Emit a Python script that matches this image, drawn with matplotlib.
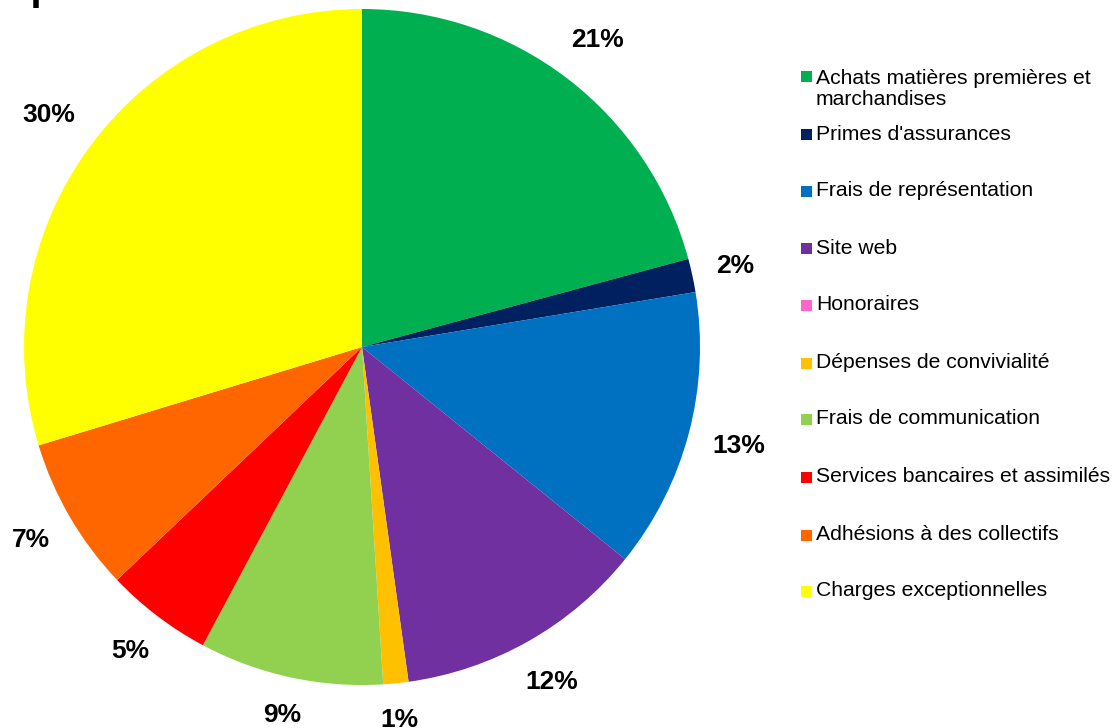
import matplotlib
matplotlib.use("Agg")
import numpy as np
import matplotlib.pyplot as plt
from matplotlib.patches import Rectangle

plt.rcParams['font.family'] = ['Liberation Sans', 'DejaVu Sans']

categories = [
    "Achats matières premières et\nmarchandises",
    "Primes d'assurances",
    "Frais de représentation",
    "Site web",
    "Honoraires",
    "Dépenses de convivialité",
    "Frais de communication",
    "Services bancaires et assimilés",
    "Adhésions à des collectifs",
    "Charges exceptionnelles",
]
values = [20.8, 1.6, 13.4, 12.0, 0.0, 1.2, 8.8, 5.1, 7.4, 29.7]
colors = ["#00B050", "#002060", "#0070C0", "#7030A0", "#FF66CC",
          "#FFC000", "#92D050", "#FF0000", "#FF6600", "#FFFF00"]
title = "Dépenses"

W, H = 1113, 728
fig = plt.figure(figsize=(W / 100, H / 100), dpi=100)

cx, cy, r = 362, 347, 338
ax = fig.add_axes([(cx - r) / W, (H - cy - r) / H, 2 * r / W, 2 * r / H])


def fmt(p):
    return "" if p < 0.05 else f"{p:.0f}%"


wedges, texts, autotexts = ax.pie(
    values, colors=colors, startangle=90, counterclock=False,
    autopct=fmt, pctdistance=1.15, radius=1.0,
    wedgeprops=dict(linewidth=0),
    textprops=dict(fontsize=19, fontweight='bold', color='black'),
)
ax.set_xlim(-1, 1)
ax.set_ylim(-1, 1)
ax.set_aspect('equal')
ax.axis('off')

# "Outside end" label placement: keep a fixed gap between label box and pie edge
renderer = fig.canvas.get_renderer()
gap = 23
for w, t in zip(wedges, autotexts):
    if not t.get_text():
        continue
    ang = np.deg2rad((w.theta1 + w.theta2) / 2)
    bb = t.get_window_extent(renderer)
    d = r + gap + bb.width / 2 * abs(np.cos(ang)) + bb.height / 2 * abs(np.sin(ang))
    t.set_position((d / r * np.cos(ang), d / r * np.sin(ang)))
    t.set_ha('center')
    t.set_va('center')

# Title (cut off at top, as in the reference)
fig.text(-21 / W, 1.0, title, fontsize=29, fontweight='bold',
         va='baseline', ha='left')

# Manual legend
legend_y = [76.5, 134, 191, 248, 305, 363, 419, 477, 535, 591]
sq = 11
for lbl, col, y in zip(categories, colors, legend_y):
    fig.patches.append(Rectangle((801 / W, (H - y - sq / 2) / H), sq / W, sq / H,
                                 transform=fig.transFigure, facecolor=col,
                                 edgecolor='none'))
    if '\n' in lbl:
        fig.text(816 / W, (H - 89) / H, lbl, fontsize=15.2, va='center',
                 ha='left', linespacing=1.17)
    else:
        fig.text(816 / W, (H - y) / H, lbl, fontsize=15.2, va='center',
                 ha='left')

fig.savefig("out.png", dpi=100)
